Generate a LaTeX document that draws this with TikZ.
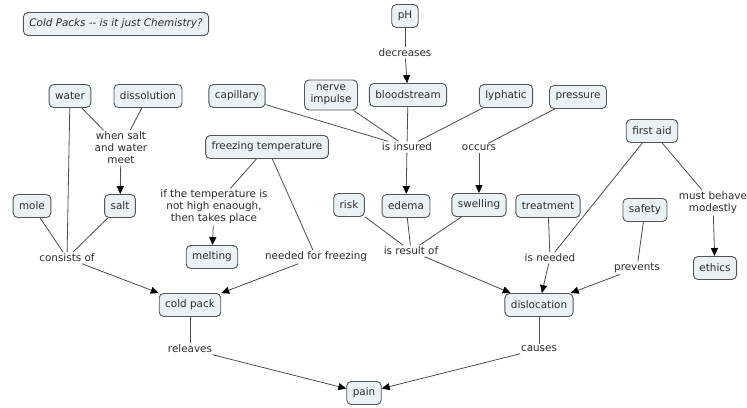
\documentclass[tikz,border=0pt]{standalone}
\usepackage{fontspec}
\setmainfont{DejaVu Sans}
\usetikzlibrary{arrows.meta}

\definecolor{boxfill}{RGB}{234,242,245}
\definecolor{boxline}{RGB}{85,85,85}
\definecolor{txt}{RGB}{45,45,45}

\tikzset{
	concept/.style={draw=boxline, line width=0.9pt, fill=boxfill, rounded corners=4.5pt, text=txt,
		inner xsep=6pt, inner ysep=5pt, minimum height=23pt, align=center,
		font=\fontsize{10.4}{12}\selectfont},
	link/.style={fill=white, text=txt, inner sep=1.5pt, align=center,
		font=\fontsize{10.4}{12}\selectfont},
	line/.style={draw=black!70, line width=0.8pt},
	arr/.style={line, -{Triangle[length=8pt,width=7pt,color=black]}}
}

\begin{document}
\begin{tikzpicture}[x=1pt, y=-1pt]

	\useasboundingbox (0,0) rectangle (747,407);

	    % concepts
		    \node[concept, font=\fontsize{10.4}{12}\selectfont\itshape] (title) at (116,24) {Cold Packs -{}- is it just Chemistry?};
		    \node[concept] (ph) at (405,16) {pH};
		    \node[concept] (blood) at (408,95) {bloodstream};
		    \node[concept] (nerve) at (331,95) {nerve\\impulse};
		    \node[concept] (cap) at (237,96) {capillary};
		    \node[concept] (lymph) at (506,96) {lyphatic};
		    \node[concept] (press) at (578,97) {pressure};
		    \node[concept] (freeze) at (267,147) {freezing temperature};
		    \node[concept] (water) at (70,96) {water};
		    \node[concept] (diss) at (148,96) {dissolution};
		    \node[concept] (mole) at (32,206) {mole};
		    \node[concept] (salt) at (120,206) {salt};
		    \node[concept] (melt) at (212,257) {melting};
		    \node[concept] (cold) at (190,305) {cold pack};
		    \node[concept] (risk) at (349,205) {risk};
		    \node[concept] (edema) at (406,206) {edema};
		    \node[concept] (swell) at (479,205) {swelling};
		    \node[concept] (treat) at (548,206) {treatment};
		    \node[concept] (safety) at (645,210) {safety};
		    \node[concept] (aid) at (652,131) {first aid};
		    \node[concept] (ethics) at (715,268) {ethics};
		    \node[concept] (disl) at (539,305) {dislocation};
		    \node[concept] (pain) at (364,393) {pain};

	    % linking phrases
		    \node[link] (decr) at (405,53) {decreases};
		    \node[link] (insured) at (407,147) {is insured};
		    \node[link] (occurs) at (479,148) {occurs};
		    \node[link] (meet) at (121,148) {when salt\\and water\\meet};
		    \node[link] (consist) at (67,258) {consists of};
		    \node[link] (ifnot) at (214,207) {if the temperature is\\not high enaough,\\then takes place};
		    \node[link] (needfr) at (316,257) {needed for freezing};
		    \node[link] (result) at (411,251) {is result of};
		    \node[link] (needed) at (550,258) {is needed};
		    \node[link] (prev) at (637,268) {prevents};
		    \node[link] (behave) at (713,203) {must behave\\modestly};
		    \node[link] (rel) at (190,349) {releaves};
		    \node[link] (causes) at (539,349) {causes};

	    % connectors
		    \draw[line] (ph) -- (decr);
		    \draw[arr] (decr) -- (blood);
		    \draw[line] (cap) -- (insured);
		    \draw[line] (nerve) -- (insured);
		    \draw[line] (blood) -- (insured);
		    \draw[line] (lymph) -- (insured);
		    \draw[arr] (insured) -- (edema);
		    \draw[line] (press) -- (occurs);
		    \draw[arr] (occurs) -- (swell);
		    \draw[line] (water) -- (meet);
		    \draw[line] (diss) -- (meet);
		    \draw[arr] (meet) -- (salt);
		    \draw[line] (water) -- (consist);
		    \draw[line] (mole) -- (consist);
		    \draw[line] (salt) -- (consist);
		    \draw[arr] (consist) -- (cold);
		    \draw[line] (freeze) -- (ifnot);
		    \draw[arr] (ifnot) -- (melt);
		    \draw[line] (freeze) -- (needfr);
		    \draw[arr] (needfr) -- (cold);
		    \draw[line] (risk) -- (result);
		    \draw[line] (edema) -- (result);
		    \draw[line] (swell) -- (result);
		    \draw[arr] (result) -- (disl);
		    \draw[line] (treat) -- (needed);
		    \draw[line] (aid) -- (needed);
		    \draw[arr] (needed) -- (disl);
		    \draw[line] (safety) -- (prev);
		    \draw[arr] (prev) -- (disl);
		    \draw[line] (aid) -- (behave);
		    \draw[arr] (behave) -- (ethics);
		    \draw[line] (cold) -- (rel);
		    \draw[arr] (rel) -- (pain);
		    \draw[line] (disl) -- (causes);
		    \draw[arr] (causes) -- (pain);

\end{tikzpicture}
\end{document}
